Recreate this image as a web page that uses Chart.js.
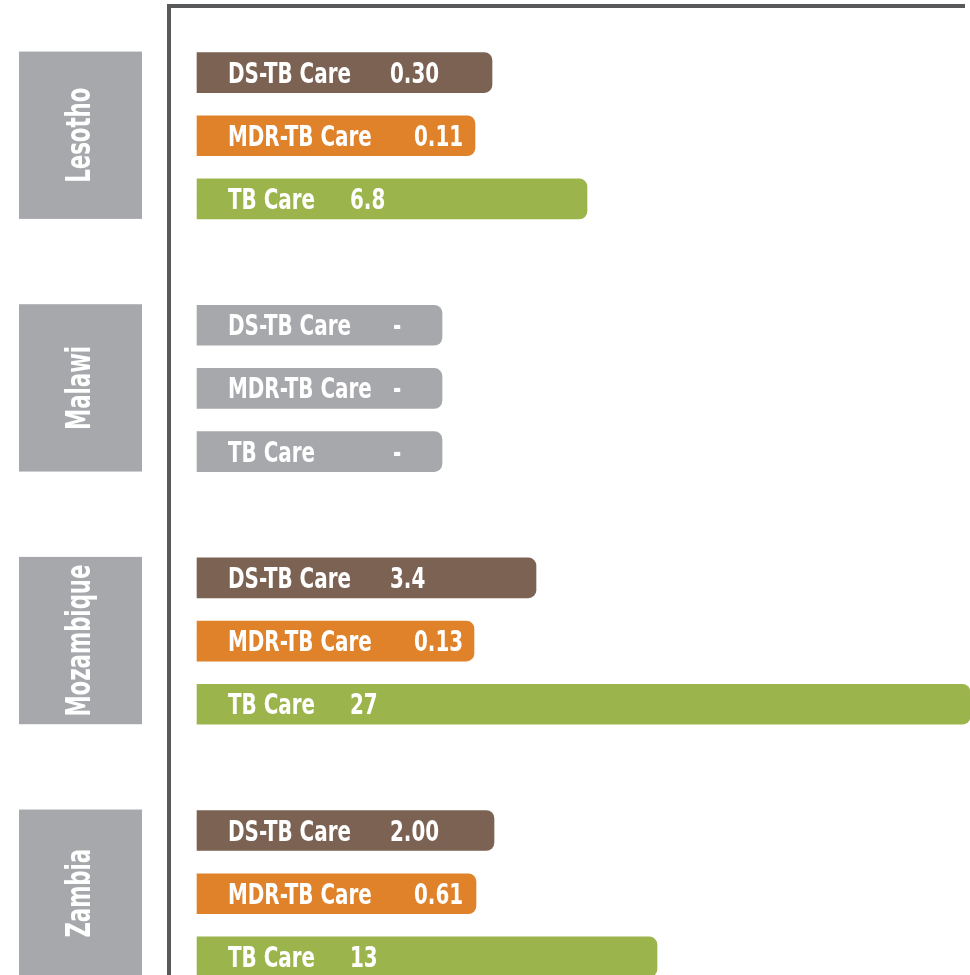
<!DOCTYPE html>
<html>
<head>
<meta charset="utf-8">
<script src="https://cdn.jsdelivr.net/npm/chart.js@4"></script>
<style>
    html, body { margin: 0; padding: 0; background: #ffffff; overflow: hidden; }
    #wrap { width: 970px; height: 975px; position: relative; }
</style>
</head>
<body>
<div id="wrap"><canvas id="tbChart"></canvas></div>
<script>
// TB care cost by country (values as printed on the bars)
const countries = ['Lesotho', 'Malawi', 'Mozambique', 'Zambia'];
const careTypes = ['DS-TB Care', 'MDR-TB Care', 'TB Care'];

const dsValues = ['0.30', '-', '3.4', '2.00'];
const mdrValues = ['0.11', '-', '0.13', '0.61'];
const tbValues = ['6.8', '-', '27', '13'];

// The graphic is not drawn to scale: bar lengths
const dsLength = [295, 245, 339, 297];
const mdrLength = [278, 245, 277, 279];
const tbLength = [390, 245, 773, 460];

const careColors = ['#7b6252', '#e0822a', '#9bb54c'];
const noDataColor = '#a7a8ac';
const axisColor = '#58595b';
const labelFont = "bold 28px 'Liberation Sans Narrow', 'DejaVu Sans Condensed', sans-serif";
const countryFont = "bold 33px 'Liberation Sans Narrow', 'DejaVu Sans Condensed', sans-serif";

const barStart = 28;           // gap between axis line and bars
const valueOffsets = [193, 217, 153];
const dashOffset = 196;

function buildDataset(k, values, lengths) {
    return {
        label: careTypes[k],
        data: lengths.map((len, g) => ({ x: barStart + len, y: g * 4 + k })),
        valueLabels: values,
        base: barStart,
        backgroundColor: values.map(v => v === '-' ? noDataColor : careColors[k]),
        borderRadius: 8,
        borderSkipped: 'start',
        barThickness: 40,
        grouped: false,
        clip: false
    };
}

// no condensed font installed -> squeeze the text horizontally
function squeezedText(ctx, text, x, y, sx) {
    ctx.save();
    ctx.translate(x, y);
    ctx.scale(sx, 1);
    ctx.fillText(text, 0, 0);
    ctx.restore();
}

// Text inside bars + grey country boxes on the left
const labelPlugin = {
    id: 'tbLabels',
    afterDatasetsDraw(chart) {
        const ctx = chart.ctx;
        ctx.save();
        ctx.fillStyle = '#ffffff';
        ctx.font = labelFont;
        ctx.textAlign = 'left';
        ctx.textBaseline = 'alphabetic';
        const sx = 123 / ctx.measureText('DS-TB Care').width;
        chart.data.datasets.forEach((ds, k) => {
            chart.getDatasetMeta(k).data.forEach((bar, g) => {
                const left = bar.base;
                const y = bar.y + 10;
                squeezedText(ctx, ds.label, left + 31, y, sx);
                const v = ds.valueLabels[g];
                squeezedText(ctx, v, left + (v === '-' ? dashOffset : valueOffsets[k]), y, sx);
            });
        });

        // country boxes
        const first = chart.getDatasetMeta(0).data;
        const last = chart.getDatasetMeta(2).data;
        ctx.font = countryFont;
        const sc = 152 / ctx.measureText('Mozambique').width;
        countries.forEach((name, g) => {
            const top = first[g].y - first[g].height / 2 - 1;
            const bottom = last[g].y + last[g].height / 2;
            ctx.fillStyle = noDataColor;
            ctx.fillRect(19, top, 123, bottom - top);
            ctx.save();
            ctx.translate(90, (top + bottom) / 2);
            ctx.rotate(-Math.PI / 2);
            ctx.scale(sc, 1);
            ctx.fillStyle = '#ffffff';
            ctx.textAlign = 'center';
            ctx.fillText(name, 0, 0);
            ctx.restore();
        });
        ctx.restore();
    }
};

new Chart(document.getElementById('tbChart'), {
    type: 'bar',
    data: {
        datasets: [
            buildDataset(0, dsValues, dsLength),
            buildDataset(1, mdrValues, mdrLength),
            buildDataset(2, tbValues, tbLength)
        ]
    },
    options: {
        indexAxis: 'y',
        responsive: true,
        maintainAspectRatio: false,
        animation: false,
        layout: { padding: { left: 169, top: 6, right: 6, bottom: 0 } },
        plugins: {
            legend: { display: false },
            tooltip: { enabled: false }
        },
        scales: {
            x: {
                type: 'linear',
                position: 'top',
                min: 0,
                max: 795,
                grid: { display: false, drawTicks: false },
                ticks: { display: false },
                border: { display: true, color: axisColor, width: 4 }
            },
            y: {
                type: 'linear',
                reverse: true,
                offset: false,
                min: -1.054,
                max: 14.287,
                grid: { display: false, drawTicks: false },
                ticks: { display: false },
                border: { display: true, color: axisColor, width: 4 }
            }
        }
    },
    plugins: [labelPlugin]
});
</script>
</body>
</html>
